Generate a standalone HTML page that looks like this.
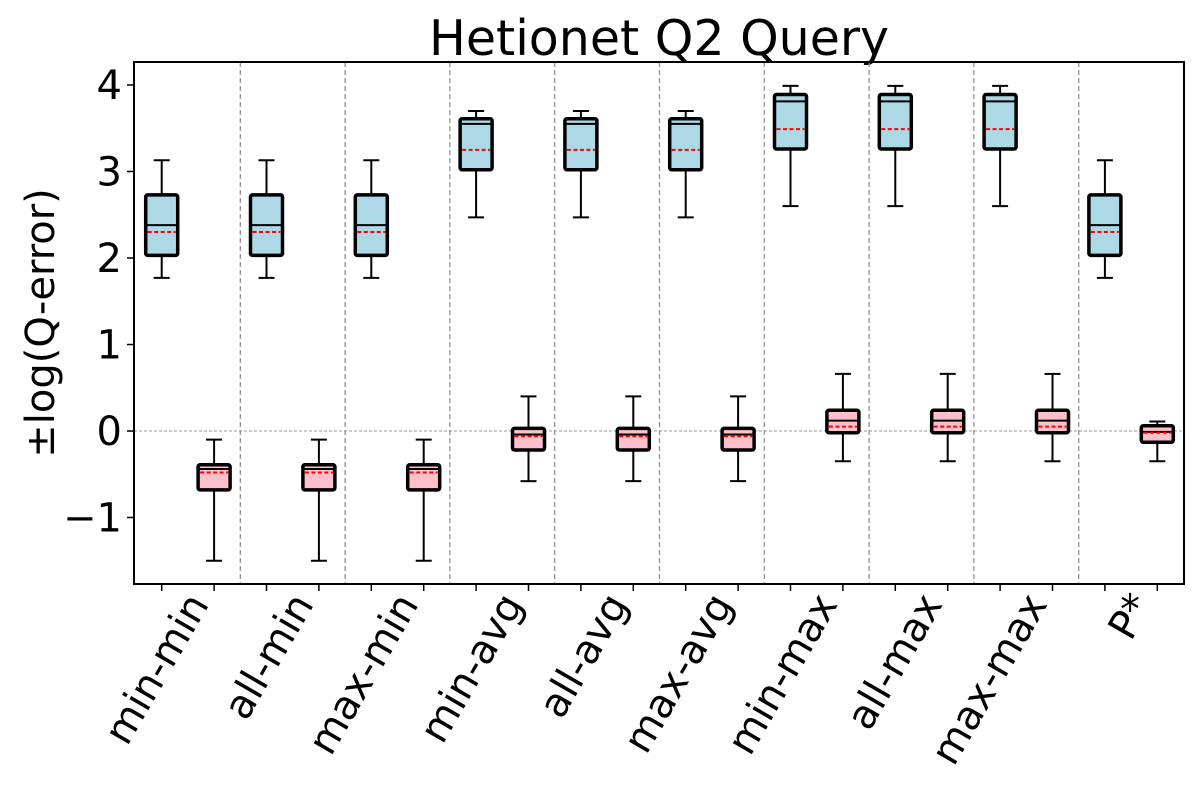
<!DOCTYPE html>
<html><head><meta charset="utf-8"><style>
body{margin:0;background:#fff;}
svg{display:block;font-family:"DejaVu Sans","Liberation Sans",sans-serif;}
</style></head><body>
<svg id="chart" width="1200" height="800"></svg>
<script>
const categories=["min-min","all-min","max-min","min-avg","all-avg","max-avg","min-max","all-max","max-max","P*"];
const posLo=[1.77,1.77,1.77,2.47,2.47,2.47,2.60,2.60,2.60,1.77];
const posQ1=[2.03,2.03,2.03,3.02,3.02,3.02,3.26,3.26,3.26,2.03];
const posMed=[2.38,2.38,2.38,3.55,3.55,3.55,3.81,3.81,3.81,2.38];
const posMean=[2.30,2.30,2.30,3.25,3.25,3.25,3.49,3.49,3.49,2.30];
const posQ3=[2.73,2.73,2.73,3.61,3.61,3.61,3.89,3.89,3.89,2.73];
const posHi=[3.13,3.13,3.13,3.70,3.70,3.70,3.99,3.99,3.99,3.13];
const negLo=[-1.50,-1.50,-1.50,-0.58,-0.58,-0.58,-0.35,-0.35,-0.35,-0.35];
const negQ1=[-0.68,-0.68,-0.68,-0.22,-0.22,-0.22,-0.02,-0.02,-0.02,-0.13];
const negMed=[-0.44,-0.44,-0.44,-0.04,-0.04,-0.04,0.12,0.12,0.12,-0.01];
const negMean=[-0.48,-0.48,-0.48,-0.06,-0.06,-0.06,0.05,0.05,0.05,-0.02];
const negQ3=[-0.39,-0.39,-0.39,0.03,0.03,0.03,0.24,0.24,0.24,0.06];
const negHi=[-0.10,-0.10,-0.10,0.40,0.40,0.40,0.66,0.66,0.66,0.11];
const yTicks=[-1,0,1,2,3,4];
const yTickLabels=["\u22121","0","1","2","3","4"];

const NS="http://www.w3.org/2000/svg";
const svg=document.getElementById('chart');
const L=134,R=1184,T=62,B=584;
const y=v=>431-v*86.5;
const x=k=>161.7+k*52.4;
function el(tag,attrs,parent){const e=document.createElementNS(NS,tag);for(const k in attrs)e.setAttribute(k,attrs[k]);(parent||svg).appendChild(e);return e;}

let t=el('text',{x:659,y:55,'font-size':49,'text-anchor':'middle'});t.textContent="Hetionet Q2 Query";


t=el('text',{x:0,y:0,'font-size':40,'text-anchor':'middle',transform:'translate(54,323) rotate(-90)'});t.textContent="\u00B1log(Q-error)";



let z=el('line',{x1:L,x2:R,y1:y(0),y2:y(0),stroke:'#999','stroke-width':1,'stroke-dasharray':'3,2'});



for(let i=1;i<categories.length;i++){
  const d=el('line',{x1:(x(2*i-1)+x(2*i))/2,x2:(x(2*i-1)+x(2*i))/2,y1:T,y2:B,stroke:'#888','stroke-width':1.2,'stroke-dasharray':'5,3'});
  
  
}

function box(cx,lo,q1,med,mean,q3,hi,fill,name){
  const g=el('g',{});
  
  
  const w=32,cw=16;
  el('line',{x1:cx,x2:cx,y1:y(hi),y2:y(q3),stroke:'#000','stroke-width':2},g);
  el('line',{x1:cx,x2:cx,y1:y(q1),y2:y(lo),stroke:'#000','stroke-width':2},g);
  el('line',{x1:cx-cw/2,x2:cx+cw/2,y1:y(hi),y2:y(hi),stroke:'#000','stroke-width':2},g);
  el('line',{x1:cx-cw/2,x2:cx+cw/2,y1:y(lo),y2:y(lo),stroke:'#000','stroke-width':2},g);
  el('rect',{x:cx-w/2,y:y(q3),width:w,height:y(q1)-y(q3),fill:fill,stroke:'#000','stroke-width':3.5,rx:2},g);
  el('line',{x1:cx-w/2,x2:cx+w/2,y1:y(med),y2:y(med),stroke:'#000','stroke-width':2},g);
  el('line',{x1:cx-w/2+2,x2:cx+w/2-2,y1:y(mean),y2:y(mean),stroke:'red','stroke-width':2,'stroke-dasharray':'4,2.5'},g);
}
for(let i=0;i<categories.length;i++){
  box(x(2*i),posLo[i],posQ1[i],posMed[i],posMean[i],posQ3[i],posHi[i],'#add8e6','pos-box-'+categories[i]);
  box(x(2*i+1),negLo[i],negQ1[i],negMed[i],negMean[i],negQ3[i],negHi[i],'#ffc0cb','neg-box-'+categories[i]);
}

let f=el('rect',{x:L,y:T,width:R-L,height:B-T,fill:'none',stroke:'#000','stroke-width':2});



yTicks.forEach((v,i)=>{
  el('line',{x1:L-7,x2:L,y1:y(v),y2:y(v),stroke:'#000','stroke-width':1.5});
  const tl=el('text',{x:L-12,y:y(v)+14,'font-size':40,'text-anchor':'end'});tl.textContent=yTickLabels[i];
  
  
});
for(let k=0;k<2*categories.length;k++) el('line',{x1:x(k),x2:x(k),y1:B,y2:B+7,stroke:'#000','stroke-width':1.5});
categories.forEach((c,i)=>{
  const ax=x(2*i)+48, ay=604;
  const tl=el('text',{x:0,y:0,'font-size':40,'text-anchor':'end',transform:`translate(${ax},${ay}) rotate(-60)`});
  tl.textContent=c;
  
  
});
</script>
</body></html>
